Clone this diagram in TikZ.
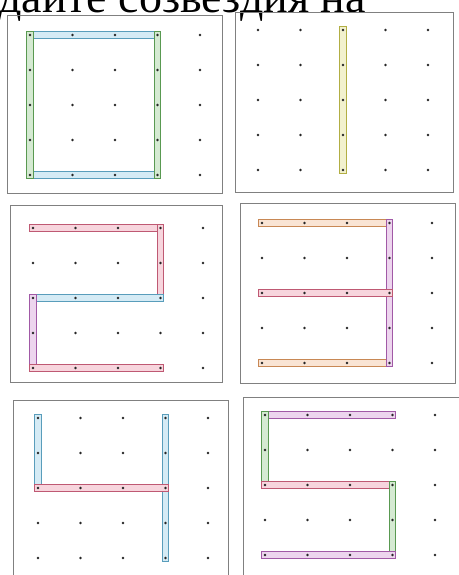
\documentclass[tikz,border=0pt]{standalone}
\usepackage{fontspec}
\setmainfont{Liberation Serif}
\definecolor{rodcyan}{RGB}{105,185,220}
\definecolor{rodgreen}{RGB}{105,180,95}
\definecolor{rodyellow}{RGB}{210,205,80}
\definecolor{rodpink}{RGB}{225,105,135}
\definecolor{rodorange}{RGB}{235,160,100}
\definecolor{rodviolet}{RGB}{190,105,195}

\begin{document}
\begin{tikzpicture}[x=1pt,y=-1pt,
    board/.style={draw=black!50,line width=0.8pt},
    pin/.style={fill=black!85},
    stick/.style={draw=#1!85!black,double=#1!28,double distance=5.5pt,line width=1.1pt,line cap=rect},
    cell/.style={shift={#1},x=42.5pt,y=-35pt}]
    \useasboundingbox (0,0) rectangle (458,575);
    \node[anchor=base west,inner sep=0pt,font=\fontsize{46}{46}\selectfont] (title) at (-2,13) {дайте созвездия на};
    % boards
    \draw[board] (7,15) rectangle (222,193);
    \draw[board] (235,12) rectangle (453,192);
    \draw[board] (10,205) rectangle (222,382);
    \draw[board] (240,203) rectangle (455,383);
    \draw[board] (13,400) rectangle (228,590);
    \draw[board] (243,397) rectangle (470,590);
    % 0
    \begin{scope}[cell={(30,35)}]
      \draw[stick=rodcyan] (0,0) -- (3,0);
      \draw[stick=rodcyan] (0,4) -- (3,4);
      \draw[stick=rodgreen] (0,0) -- (0,4);
      \draw[stick=rodgreen] (3,0) -- (3,4);
    \end{scope}
    % 1
    \begin{scope}[cell={(258,30)}]
      \draw[stick=rodyellow] (2,0) -- (2,4);
    \end{scope}
    % 2
    \begin{scope}[cell={(33,228)}]
      \draw[stick=rodpink] (0,0) -- (3,0);
      \draw[stick=rodpink] (3,0) -- (3,2);
      \draw[stick=rodcyan] (0,2) -- (3,2);
      \draw[stick=rodviolet] (0,2) -- (0,4);
      \draw[stick=rodpink] (0,4) -- (3,4);
    \end{scope}
    % 3
    \begin{scope}[cell={(262,223)}]
      \draw[stick=rodorange] (0,0) -- (3,0);
      \draw[stick=rodorange] (0,4) -- (3,4);
      \draw[stick=rodviolet] (3,0) -- (3,4);
      \draw[stick=rodpink] (0,2) -- (3,2);
    \end{scope}
    % 4
    \begin{scope}[cell={(38,418)}]
      \draw[stick=rodcyan] (0,0) -- (0,2);
      \draw[stick=rodcyan] (3,0) -- (3,4);
      \draw[stick=rodpink] (0,2) -- (3,2);
    \end{scope}
    % 5
    \begin{scope}[cell={(265,415)}]
      \draw[stick=rodviolet] (0,0) -- (3,0);
      \draw[stick=rodgreen] (0,0) -- (0,2);
      \draw[stick=rodpink] (0,2) -- (3,2);
      \draw[stick=rodgreen] (3,2) -- (3,4);
      \draw[stick=rodviolet] (0,4) -- (3,4);
    \end{scope}
    % dots
    \foreach \ox/\oy in {30/35,258/30,33/228,262/223,38/418,265/415} {
      \foreach \i in {0,...,4}
        \foreach \j in {0,...,4}
          \fill[pin] (\ox+42.5*\i,\oy+35*\j) circle (1.4);
    }
\end{tikzpicture}
\end{document}
